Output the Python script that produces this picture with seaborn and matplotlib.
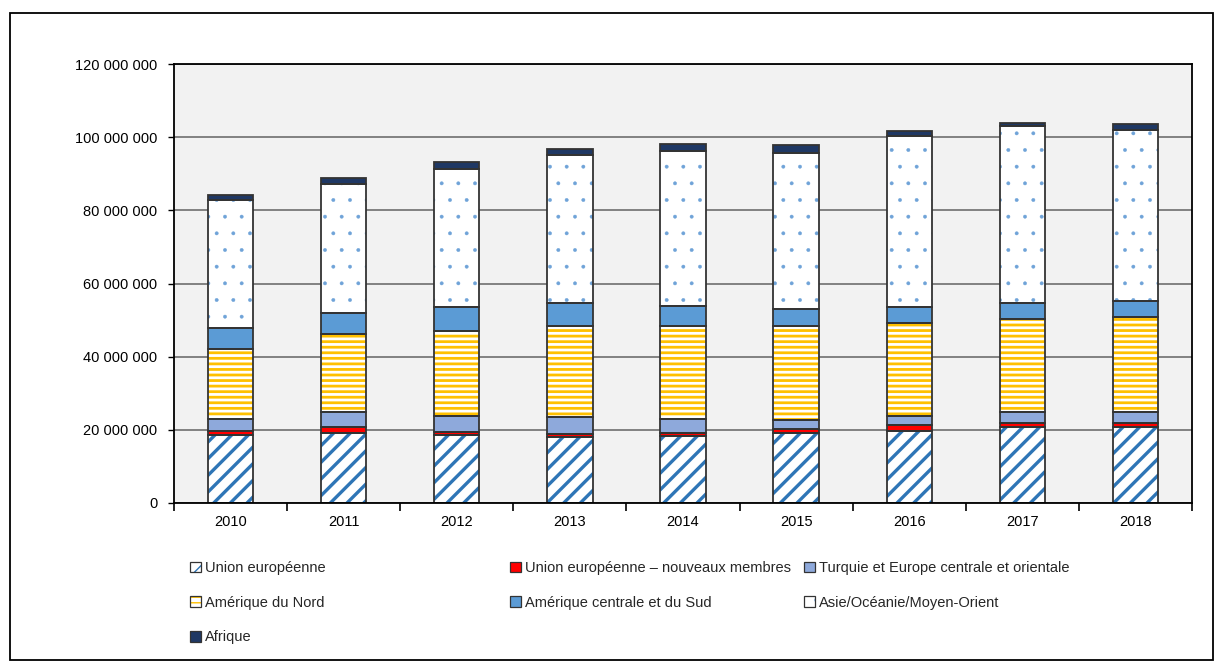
import numpy as np
import matplotlib
matplotlib.use("Agg")
import matplotlib.pyplot as plt
from matplotlib.patches import Patch, Rectangle
from matplotlib.ticker import FuncFormatter, FixedLocator
from matplotlib.legend_handler import HandlerTuple
import seaborn as sns

# Annual volumes by region of origin
years = ["2010", "2011", "2012", "2013", "2014", "2015", "2016", "2017", "2018"]
union_europeenne = [18_600_000, 19_200_000, 18_500_000, 18_100_000, 18_300_000,
                    19_000_000, 19_700_000, 20_650_000, 20_650_000]
ue_nouveaux_membres = [1_200_000, 1_450_000, 900_000, 800_000, 800_000,
                       1_200_000, 1_600_000, 1_350_000, 1_350_000]
turquie_europe_co = [3_200_000, 4_150_000, 4_400_000, 4_500_000, 3_800_000,
                     2_400_000, 2_600_000, 2_800_000, 2_800_000]
amerique_nord = [19_000_000, 21_300_000, 23_200_000, 25_000_000, 25_500_000,
                 25_800_000, 25_400_000, 25_400_000, 26_000_000]
amerique_centrale_sud = [5_900_000, 5_900_000, 6_500_000, 6_400_000, 5_400_000,
                         4_500_000, 4_200_000, 4_600_000, 4_400_000]
asie_oceanie_mo = [35_000_000, 35_300_000, 37_800_000, 40_200_000, 42_500_000,
                   42_900_000, 46_700_000, 48_200_000, 46_800_000]
afrique = [1_400_000, 1_600_000, 1_900_000, 1_800_000, 1_900_000,
           2_000_000, 1_600_000, 1_000_000, 1_600_000]

labels = ["Union européenne", "Union européenne – nouveaux membres",
          "Turquie et Europe centrale et orientale", "Amérique du Nord",
          "Amérique centrale et du Sud", "Asie/Océanie/Moyen-Orient", "Afrique"]
series = [union_europeenne, ue_nouveaux_membres, turquie_europe_co, amerique_nord,
          amerique_centrale_sud, asie_oceanie_mo, afrique]

# (face colour, hatch, hatch colour, hatch line width)
styles = [
    ("white", "//", "#2E75B6", 2.4),
    ("#FF0000", None, None, 1.0),
    ("#8EA9DB", None, None, 1.0),
    ("white", "---", "#FFC000", 2.0),
    ("#5B9BD5", None, None, 1.0),
    ("white", ".", "#6FA3D8", 0.3),
    ("#1F3864", None, None, 1.0),
]
outline = "#333333"

sns.set_theme(style="white")
plt.rcParams["font.family"] = ["Liberation Sans", "DejaVu Sans"]

W, H = 1223, 665
fig = plt.figure(figsize=(W / 100, H / 100), dpi=100)
fig.patch.set_facecolor("white")
ax = fig.add_axes([174 / W, 1 - 503 / H, (1192 - 174) / W, (503 - 64) / H])
ax.set_facecolor("#F2F2F2")

bottom = np.zeros(len(years))
for vals, (face, hatch, hcol, hlw) in zip(series, styles):
    vals = np.asarray(vals, dtype=float)
    with plt.rc_context({"hatch.linewidth": hlw}):
        # fill (and hatch) of the segment
        sns.barplot(x=years, y=vals, bottom=bottom, ax=ax, width=0.4, saturation=1,
                    errorbar=None, color=face, facecolor=face,
                    edgecolor=hcol if hatch else "none", hatch=hatch, linewidth=0,
                    zorder=3)
    # outline of the segment
    sns.barplot(x=years, y=vals, bottom=bottom, ax=ax, width=0.4, saturation=1,
                errorbar=None, fill=False, color=outline, linewidth=1.3,
                zorder=4)
    bottom = bottom + vals

ax.set_xlim(-0.5, len(years) - 0.5)
ax.set_ylim(0, 120_000_000)
ax.yaxis.set_major_locator(FixedLocator(np.arange(0, 120_000_001, 20_000_000)))
ax.yaxis.set_major_formatter(FuncFormatter(lambda v, p: f"{int(v):,}".replace(",", " ")))
ax.grid(axis="y", color="#6e6e6e", linewidth=1.2, zorder=0)
ax.set_axisbelow(True)

# year labels centred on bars, tick marks between categories
major_x = np.arange(-0.5, len(years), 1.0)
ax.xaxis.set_major_locator(FixedLocator(major_x))
ax.xaxis.set_minor_locator(FixedLocator(np.arange(len(years))))
ax.set_xticklabels([""] * len(major_x))
ax.set_xticklabels(years, minor=True)
ax.tick_params(axis="x", which="major", direction="out", length=6, width=1.2,
               color="black", bottom=True)
ax.tick_params(axis="x", which="minor", length=0, labelsize=10.5, pad=9,
               labelcolor="black")
ax.tick_params(axis="y", direction="out", length=4.5, width=1.0, color="black",
               left=True, labelsize=10.5, pad=7.5, labelcolor="black")
ax.set_xlabel("")
ax.set_ylabel("")
for s in ax.spines.values():
    s.set_visible(True)
    s.set_color("black")
    s.set_linewidth(1.3)
    s.set_zorder(5)

# legend, laid out in three columns
handles = []
for (face, hatch, hcol, hlw) in styles:
    with plt.rc_context({"hatch.linewidth": min(hlw, 1.2)}):
        fill = Patch(facecolor=face, hatch=hatch, edgecolor=hcol if hatch else "none",
                     linewidth=0)
    edge = Patch(facecolor="none", edgecolor=outline, linewidth=0.9)
    handles.append((fill, edge))

columns = [([0, 3, 6], 190), ([1, 4], 510), ([2, 5], 804)]
for idx, xpix in columns:
    fig.legend([handles[i] for i in idx], [labels[i] for i in idx],
               handler_map={tuple: HandlerTuple(ndivide=1)},
               loc="upper left", bbox_to_anchor=(xpix / W, 1 - 561 / H),
               frameon=False, fontsize=10.5, handlelength=0.75,
               handleheight=0.75, handletextpad=0.3, labelspacing=1.42,
               borderpad=0, borderaxespad=0)

# outer frame of the figure
fig.patches.append(Rectangle((10 / W, 1 - 660 / H), (1213 - 10) / W, (660 - 13) / H,
                             transform=fig.transFigure, fill=False,
                             edgecolor="black", linewidth=1.3))

fig.savefig("out.png", dpi=100, facecolor="white")
